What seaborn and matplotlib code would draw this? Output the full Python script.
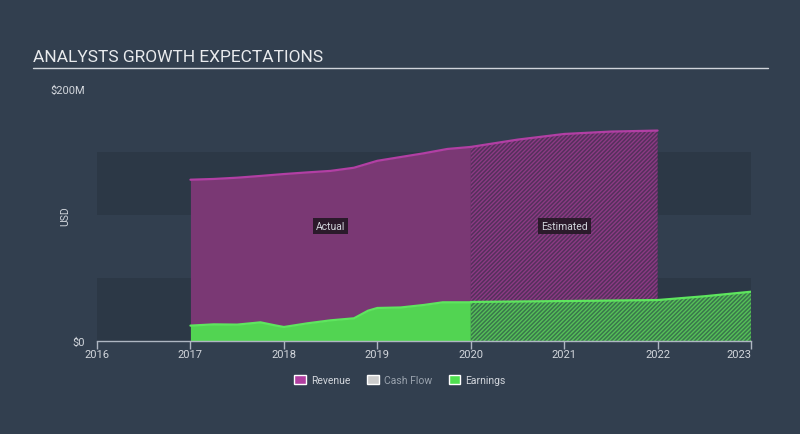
import numpy as np
import pandas as pd
import matplotlib.pyplot as plt
import seaborn as sns
from matplotlib.patches import Patch

# values in $M
rev_actual_x = [2017.0, 2017.25, 2017.5, 2017.75, 2018.0, 2018.25, 2018.5, 2018.75,
                2019.0, 2019.25, 2019.5, 2019.75, 2020.0]
rev_actual_y = [128.0, 128.6, 129.6, 131.0, 132.5, 133.8, 135.0, 137.5,
                143.0, 146.0, 149.0, 152.4, 154.0]
rev_est_x = [2020.0, 2020.5, 2021.0, 2021.5, 2022.0]
rev_est_y = [154.0, 159.8, 164.3, 166.2, 167.0]

earn_actual_x = [2017.0, 2017.25, 2017.5, 2017.75, 2017.9, 2018.0, 2018.25, 2018.5,
                 2018.75, 2018.9, 2019.0, 2019.25, 2019.5, 2019.7, 2020.0]
earn_actual_y = [12.2, 13.2, 13.0, 14.8, 12.5, 11.1, 14.0, 16.4,
                 18.0, 24.0, 26.2, 26.6, 28.6, 30.7, 30.7]
earn_est_x = [2020.0, 2021.0, 2022.0, 2022.5, 2023.0]
earn_est_y = [31.0, 31.7, 32.5, 35.5, 39.1]

year_ticks = [2016, 2017, 2018, 2019, 2020, 2021, 2022, 2023]
legend_names = ["Revenue", "Cash Flow", "Earnings"]

BG = "#323f4f"
BAND = "#2c3846"
TXT = "#d2d6dc"
REV_LINE = "#b23fa4"
REV_FILL = "#7a3874"
REV_EST = "#55305c"
EARN_LINE = "#5ee65e"
EARN_FILL = "#52d452"
EARN_EST = "#3a774c"

sns.set_style("dark")
plt.rcParams["font.family"] = ["Roboto", "DejaVu Sans"]
plt.rcParams["hatch.linewidth"] = 1.0

fig = plt.figure(figsize=(8, 4.35), dpi=100, facecolor=BG)
ax = fig.add_axes([97 / 800, 1 - 342 / 435, 654 / 800, 252 / 435])
ax.set_facecolor(BG)

# background bands
for lo, hi in [(0, 50), (100, 150)]:
    ax.axhspan(lo, hi, color=BAND, lw=0, zorder=0)

rev_a = pd.DataFrame({"year": rev_actual_x, "value": rev_actual_y})
rev_e = pd.DataFrame({"year": rev_est_x, "value": rev_est_y})
earn_a = pd.DataFrame({"year": earn_actual_x, "value": earn_actual_y})
earn_e = pd.DataFrame({"year": earn_est_x, "value": earn_est_y})

# revenue
ax.fill_between(rev_a["year"], 0, rev_a["value"], color=REV_FILL, lw=0, zorder=1)
ax.fill_between(rev_e["year"], 0, rev_e["value"], facecolor=REV_EST,
                edgecolor="#8c3a84", hatch="////////", lw=0, zorder=1)
sns.lineplot(data=rev_a, x="year", y="value", color=REV_LINE, lw=1.6, ax=ax, zorder=3)
sns.lineplot(data=rev_e, x="year", y="value", color=REV_LINE, lw=1.6, ax=ax, zorder=3)

# earnings
ax.fill_between(earn_a["year"], 0, earn_a["value"], color=EARN_FILL, lw=0, zorder=2)
ax.fill_between(earn_e["year"], 0, earn_e["value"], facecolor=EARN_EST,
                edgecolor="#56c058", hatch="////////", lw=0, zorder=2)
sns.lineplot(data=earn_a, x="year", y="value", color=EARN_LINE, lw=1.6, ax=ax, zorder=3)
sns.lineplot(data=earn_e, x="year", y="value", color=EARN_LINE, lw=1.6, ax=ax, zorder=3)

ax.set_xlim(2016, 2023)
ax.set_ylim(0, 200)
ax.set_xticks(year_ticks)
ax.set_xticklabels([str(y) for y in year_ticks])
ax.get_xticklabels()[-1].set_ha("right")
ax.set_yticks([0, 200])
ax.set_yticklabels(["$0", "$200M"])
ax.tick_params(axis="x", colors=TXT, labelsize=8, length=5.5, width=1, pad=0,
               direction="out", bottom=True, color="#aeb6c2")
ax.tick_params(axis="y", colors=TXT, labelsize=8, length=0, pad=8.5)
ax.set_xlabel("")
ax.set_ylabel("USD", color=TXT, fontsize=7.5)
ax.yaxis.set_label_coords(-0.041, 0.5)
ax.grid(False)
for side in ["top", "right", "left"]:
    ax.spines[side].set_visible(False)
ax.spines["bottom"].set_color("#aeb6c2")
ax.spines["bottom"].set_linewidth(1)
ax.spines["bottom"].set_zorder(5)

box = dict(boxstyle="square,pad=0.3", facecolor="#2b1a2b", edgecolor="none")
ax.text(2018.5, 91, "Actual", color=TXT, fontsize=7.5, ha="center", va="center",
        bbox=box, zorder=6)
ax.text(2021.0, 91, "Estimated", color=TXT, fontsize=7.5, ha="center", va="center",
        bbox=box, zorder=6)

# title and rule
fig.text(33 / 800, 1 - 57 / 435, "ANALYSTS GROWTH EXPECTATIONS", color="#e8eaed",
         fontsize=12.5, ha="left", va="center")
fig.add_artist(plt.Line2D([33 / 800, 768 / 800], [1 - 68.5 / 435] * 2,
                          color="#d0d4da", lw=1))

handles = [Patch(facecolor="#b13fa0"), Patch(facecolor="#cccccc"),
           Patch(facecolor="#4fe04f")]
leg = fig.legend(handles, legend_names, loc="center", ncol=3,
                 bbox_to_anchor=(0.5, 1 - 381 / 435), frameon=False, fontsize=7.5,
                 handlelength=1.1, handleheight=0.9, handletextpad=0.5,
                 columnspacing=1.6)
for t, c in zip(leg.get_texts(), [TXT, "#9aa3ae", TXT]):
    t.set_color(c)

fig.savefig("out.png", dpi=100, facecolor=BG)
